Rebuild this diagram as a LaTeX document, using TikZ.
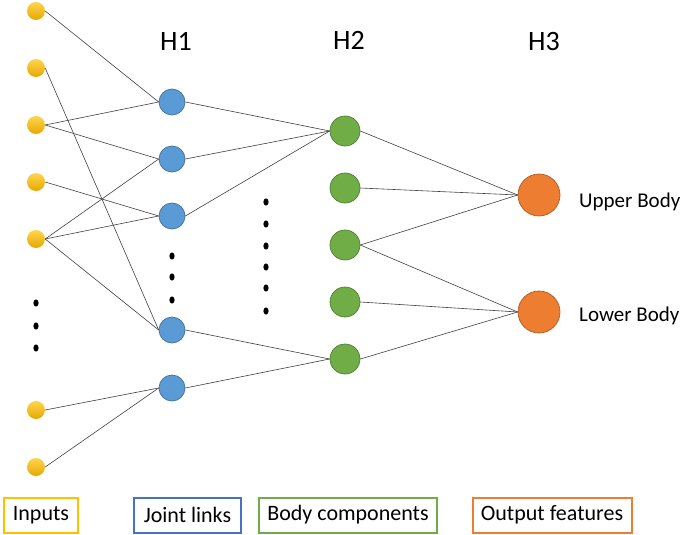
\documentclass[tikz,border=0pt]{standalone}
\usepackage{fontspec}
\setmainfont{Carlito}
\definecolor{inyellow}{HTML}{FFC000}
\definecolor{inyellowtop}{HTML}{FFD54F}
\definecolor{inyellowbot}{HTML}{E6A800}
\definecolor{jointblue}{HTML}{5B9BD5}
\definecolor{jointline}{HTML}{41719C}
\definecolor{legblue}{HTML}{4472C4}
\definecolor{bodygreen}{HTML}{70AD47}
\definecolor{bodyline}{HTML}{507E32}
\definecolor{outorange}{HTML}{ED7D31}
\definecolor{outline}{HTML}{AE5A21}
\definecolor{linkgray}{HTML}{404040}

\begin{document}
\begin{tikzpicture}[x=1pt, y=-1pt,
	input/.style={circle, minimum size=18pt, inner sep=0pt, top color=inyellowtop, bottom color=inyellowbot},
	joint/.style={circle, minimum size=26pt, inner sep=0pt, fill=jointblue, draw=jointline, line width=0.7pt},
	body/.style={circle, minimum size=30pt, inner sep=0pt, fill=bodygreen, draw=bodyline, line width=0.7pt},
	output/.style={circle, minimum size=42pt, inner sep=0pt, fill=outorange, draw=outline, line width=0.7pt},
	link/.style={draw=linkgray, line width=0.6pt},
	layer/.style={inner sep=0pt, font=\fontsize{28}{32}\selectfont},
	side/.style={anchor=base west, inner sep=0pt, font=\fontsize{21}{25}\selectfont},
	legend/.style={draw, line width=2pt, minimum height=35pt, inner sep=0pt, font=\fontsize{22}{26}\selectfont}]
			\useasboundingbox (0,0) rectangle (685,535);
			%layer titles
			\node[layer] (h1) at (176,41) {H1};
			\node[layer] (h2) at (349,40) {H2};
			\node[layer] (h3) at (544,42) {H3};
			%inputs
			\foreach \i/\y in {1/11, 2/68, 3/125, 4/182, 5/239, 6/410, 7/467}
			\node[input] (in\i) at (36,\y) {};
			%joint links
			\foreach \i/\y in {1/102, 2/159, 3/216, 4/330, 5/388}
			\node[joint] (j\i) at (172,\y) {};
			%body components
			\foreach \i/\y in {1/131, 2/188, 3/245, 4/302, 5/359}
			\node[body] (b\i) at (345,\y) {};
			%output features
			\node[output] (o1) at (539,195) {};
			\node[output] (o2) at (539,312) {};
			\node[side] (upper) at (579,207) {Upper Body};
			\node[side] (lower) at (579,321) {Lower Body};
			%dots
			\foreach \y in {303, 326, 348}
			\fill (36,\y) ellipse (2.6 and 3.6);
			\foreach \y in {256, 277, 300}
			\fill (172,\y) ellipse (2.6 and 3.6);
			\foreach \y in {202, 224, 246, 267, 288, 311}
			\fill (266,\y) ellipse (2.6 and 3.6);
			%links
			\foreach \a/\b in {in1/j1, in2/j4, in3/j1, in3/j2, in4/j3, in5/j2, in5/j3, in5/j4, in6/j5, in7/j5,
				j1/b1, j2/b1, j3/b1, j4/b5, j5/b5,
				b1/o1, b2/o1, b3/o1, b3/o2, b4/o2, b5/o2}
			\draw[link] (\a.east) -- (\b.west);
			%legend
			\node[legend, draw=inyellow, minimum width=74pt] (leginputs) at (41,515) {Inputs};
			\node[legend, draw=legblue, minimum width=107pt] (legjoint) at (187.5,515) {Joint links};
			\node[legend, draw=bodygreen, minimum width=178pt] (legbody) at (348,515) {Body components};
			\node[legend, draw=outorange, minimum width=159pt] (legout) at (552,515) {Output features};
\end{tikzpicture}
\end{document}
